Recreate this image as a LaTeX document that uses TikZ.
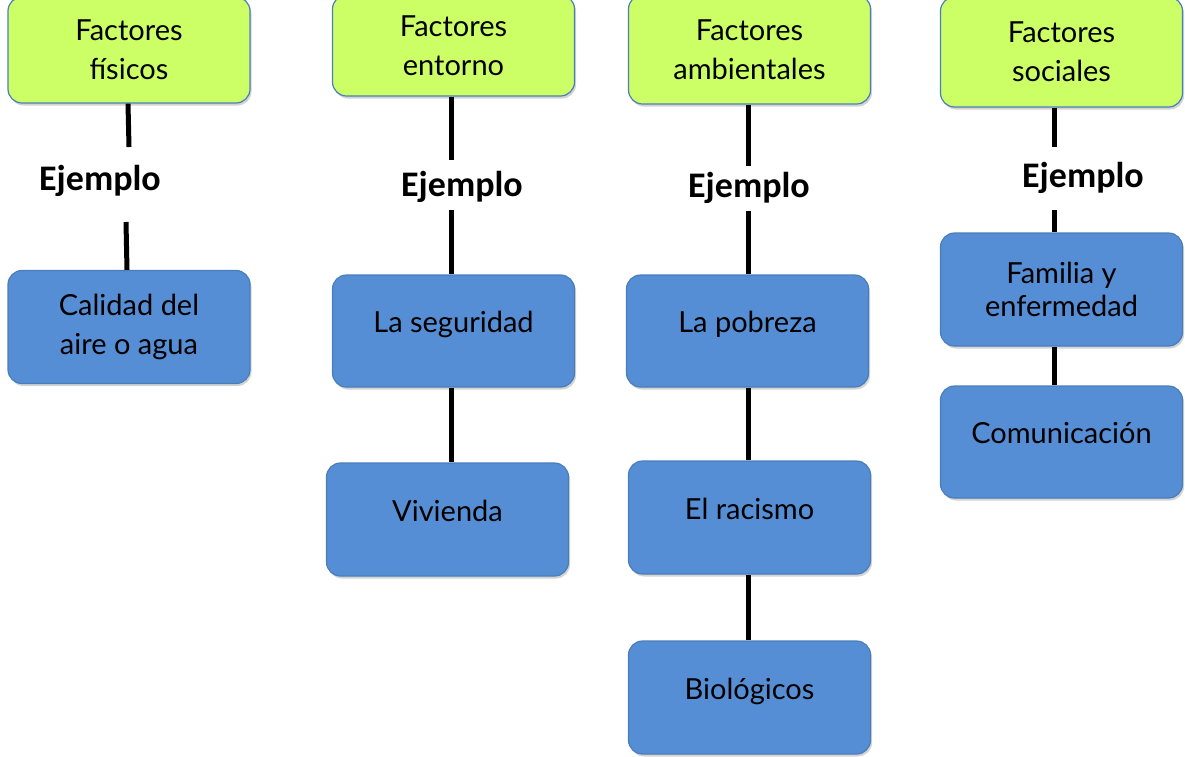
\documentclass[tikz,border=0pt]{standalone}
\usepackage{fontspec}
\setmainfont{Carlito}
\newfontfamily\boxfont{Lato}
\usetikzlibrary{shadows}
\definecolor{gfill}{HTML}{CCFF66}
\definecolor{bfill}{HTML}{558ED5}
\definecolor{bline}{HTML}{4A7EBB}
\begin{document}
\begin{tikzpicture}[x=1pt,y=-1pt,
  base/.style={draw=bline,line width=1.2pt,rounded corners=14pt,minimum width=242pt,align=center,
     font=\boxfont\fontsize{29}{39}\selectfont,text=black,
     drop shadow={shadow xshift=1.5pt,shadow yshift=-2.5pt,opacity=0.35}},
  gbox/.style={base,fill=gfill},
  bbox/.style={base,fill=bfill,minimum height=112pt},
  oneline/.style={text height=21pt,text depth=18pt},
  ej/.style={font=\bfseries\fontsize{36}{40}\selectfont},
  conn/.style={line width=5pt}]
\useasboundingbox (0,0) rectangle (1185,756);
% top boxes
\node[gbox,minimum height=106pt] (g1) at (129,50) {Factores\\físicos};
\node[gbox,minimum height=101pt] (g2) at (453.5,45.5) {Factores\\entorno};
\node[gbox,minimum height=109pt] (g3) at (749.5,49.5) {Factores\\ambientales};
\node[gbox,minimum height=110pt] (g4) at (1061.5,52) {Factores\\sociales};
% example labels
\node[ej] (e1) at (100,181) {Ejemplo};
\node[ej] (e2) at (462,187) {Ejemplo};
\node[ej] (e3) at (749,188) {Ejemplo};
\node[ej] (e4) at (1083,178) {Ejemplo};
% blue boxes
\node[bbox,minimum height=113pt] (b1) at (129,327) {Calidad del\\aire o agua};
\node[bbox,oneline] (b2) at (453.5,331) {La seguridad};
\node[bbox,oneline,minimum height=113pt] (b3) at (447.5,519.5) {Vivienda};
\node[bbox,oneline] (b4) at (747.5,331) {La pobreza};
\node[bbox,oneline,minimum height=113pt] (b5) at (749.5,517.5) {El racismo};
\node[bbox,oneline,minimum height=113pt] (b6) at (749.5,697.5) {Biológicos};
\node[bbox,minimum height=113pt,font=\boxfont\fontsize{29}{36}\selectfont] (b7) at (1061.5,289.5) {Familia y\\[-3pt]enfermedad};
\node[bbox,oneline] (b8) at (1061.5,442) {Comunicación};
% free ends
\coordinate (c1a) at (129,147);
\coordinate (c1b) at (126,222);
\coordinate (c2a) at (451,160);
\coordinate (c2b) at (451,210);
\coordinate (c3a) at (748,166);
\coordinate (c3b) at (748,211);
\coordinate (c4a) at (1054,147);
\coordinate (c4b) at (1054,210);
% connectors
\draw[conn] (g1.south -| 128,0) -- (c1a);
\draw[conn] (c1b) -- (b1.north -| 127,0);
\draw[conn] (g2.south -| 451,0) -- (c2a);
\draw[conn] (c2b) -- (b2.north -| 451,0);
\draw[conn] (b2.south -| 451,0) -- (b3.north -| 451,0);
\draw[conn] (g3.south -| 748,0) -- (c3a);
\draw[conn] (c3b) -- (b4.north -| 748,0);
\draw[conn] (b4.south -| 748,0) -- (b5.north -| 748,0);
\draw[conn] (b5.south -| 748,0) -- (b6.north -| 748,0);
\draw[conn] (g4.south -| 1054,0) -- (c4a);
\draw[conn] (c4b) -- (b7.north -| 1054,0);
\draw[conn] (b7.south -| 1054,0) -- (b8.north -| 1054,0);
\end{tikzpicture}
\end{document}
